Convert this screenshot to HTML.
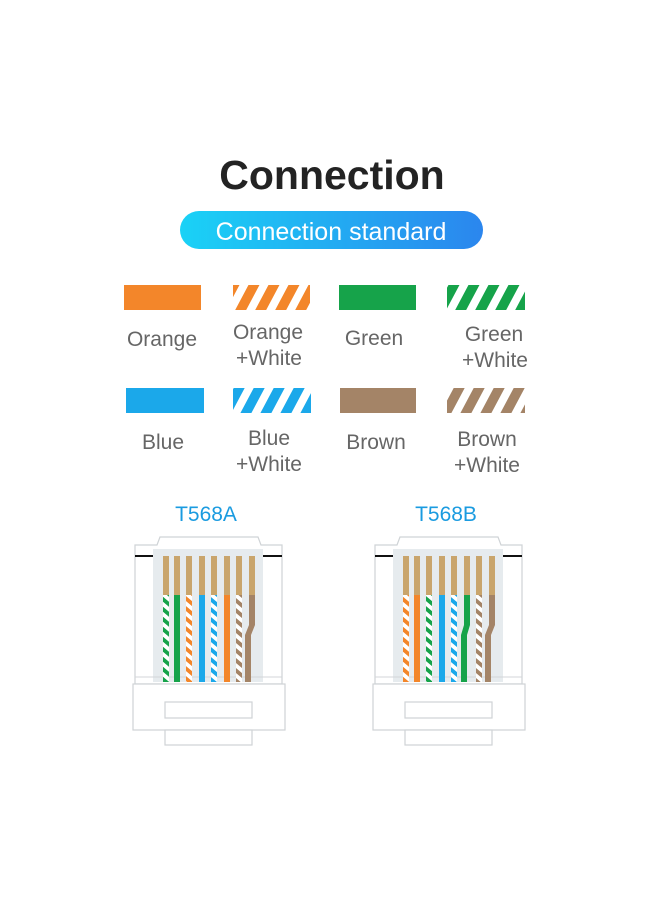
<!DOCTYPE html>
<html><head><meta charset="utf-8"><style>
html,body{margin:0;padding:0;background:#fff;}
svg{display:block;}
text{font-family:"Liberation Sans",sans-serif;}
</style></head><body>
<svg width="660" height="900" viewBox="0 0 660 900" xmlns="http://www.w3.org/2000/svg">
<defs>
<linearGradient id="pill" x1="0" x2="1" y1="0" y2="0">
<stop offset="0" stop-color="#1ad2f6"/><stop offset="1" stop-color="#2b86ee"/></linearGradient>
<pattern id="sO" width="20" height="20" patternUnits="userSpaceOnUse" patternTransform="skewX(-28)"><rect width="20" height="20" fill="#fff"/><rect width="11" height="20" fill="#f3862a"/></pattern>
<pattern id="sG" width="20" height="20" patternUnits="userSpaceOnUse" patternTransform="skewX(-28)"><rect width="20" height="20" fill="#fff"/><rect width="11" height="20" fill="#16a34a"/></pattern>
<pattern id="sB" width="20" height="20" patternUnits="userSpaceOnUse" patternTransform="skewX(-28)"><rect width="20" height="20" fill="#fff"/><rect width="11" height="20" fill="#1ba8ea"/></pattern>
<pattern id="sN" width="20" height="20" patternUnits="userSpaceOnUse" patternTransform="skewX(-28)"><rect width="20" height="20" fill="#fff"/><rect width="11" height="20" fill="#a48467"/></pattern>
<pattern id="wO" width="6" height="10" patternUnits="userSpaceOnUse" patternTransform="skewY(40)"><rect width="6" height="10" fill="#fff"/><rect width="6" height="5" fill="#f3862a"/></pattern>
<pattern id="wG" width="6" height="10" patternUnits="userSpaceOnUse" patternTransform="skewY(40)"><rect width="6" height="10" fill="#fff"/><rect width="6" height="5" fill="#16a34a"/></pattern>
<pattern id="wB" width="6" height="10" patternUnits="userSpaceOnUse" patternTransform="skewY(40)"><rect width="6" height="10" fill="#fff"/><rect width="6" height="5" fill="#1ba8ea"/></pattern>
<pattern id="wN" width="6" height="10" patternUnits="userSpaceOnUse" patternTransform="skewY(40)"><rect width="6" height="10" fill="#fff"/><rect width="6" height="5" fill="#a48467"/></pattern>
<g id="body">
<path d="M135 545 L157 545 L160 537 L258 537 L261 545 L282 545 L282 684 L135 684 Z" fill="#fff" stroke="#cfd3d6" stroke-width="1.2"/>
<rect x="153" y="549" width="110" height="133" fill="#e6ebee"/>
<line x1="135" y1="556" x2="153" y2="556" stroke="#111" stroke-width="2"/>
<line x1="263" y1="556" x2="282" y2="556" stroke="#111" stroke-width="2"/>
<line x1="135" y1="677" x2="282" y2="677" stroke="#d3d6d8"/>
<rect x="133" y="684" width="152" height="46" fill="#fff" stroke="#cfd3d6" stroke-width="1.2"/>
<rect x="165" y="702" width="87" height="16" fill="#fff" stroke="#cfd3d6" stroke-width="1.2"/>
<rect x="165" y="730" width="87" height="15" fill="#fff" stroke="#cfd3d6" stroke-width="1.2"/>
<g fill="#c9a56c">
<rect x="163" y="556" width="6" height="39"/><rect x="174" y="556" width="6" height="39"/><rect x="186" y="556" width="6" height="39"/><rect x="199" y="556" width="6" height="39"/><rect x="211" y="556" width="6" height="39"/><rect x="224" y="556" width="6" height="39"/><rect x="236" y="556" width="6" height="39"/><rect x="249" y="556" width="6" height="39"/>
</g>
</g>
</defs>

<text x="332" y="189" text-anchor="middle" font-size="41" font-weight="bold" fill="#232323">Connection</text>
<rect x="180" y="211" width="303" height="38" rx="19" fill="url(#pill)"/>
<text x="331" y="240" text-anchor="middle" font-size="25" fill="#fff">Connection standard</text>

<g font-size="21" fill="#666" text-anchor="middle">
<rect x="124" y="285" width="77" height="25" fill="#f3862a"/>
<rect x="233" y="285" width="77" height="25" fill="url(#sO)"/>
<rect x="339" y="285" width="77" height="25" fill="#16a34a"/>
<rect x="447" y="285" width="78" height="25" fill="url(#sG)"/>
<text x="162" y="346">Orange</text>
<text x="268" y="339">Orange</text><text x="269" y="365">+White</text>
<text x="374" y="345">Green</text>
<text x="494" y="341">Green</text><text x="495" y="367">+White</text>
<rect x="126" y="388" width="78" height="25" fill="#1ba8ea"/>
<rect x="233" y="388" width="78" height="25" fill="url(#sB)"/>
<rect x="340" y="388" width="76" height="25" fill="#a48467"/>
<rect x="447" y="388" width="78" height="25" fill="url(#sN)"/>
<text x="163" y="449">Blue</text>
<text x="269" y="445">Blue</text><text x="269" y="471">+White</text>
<text x="376" y="449">Brown</text>
<text x="487" y="446">Brown</text><text x="487" y="472">+White</text>
</g>

<text x="206" y="521" text-anchor="middle" font-size="21" fill="#1a9be0">T568A</text>
<text x="446" y="521" text-anchor="middle" font-size="21" fill="#1a9be0">T568B</text>

<use href="#body"/>
<g>
<rect x="163" y="595" width="6" height="87" fill="url(#wG)"/>
<rect x="174" y="595" width="6" height="87" fill="#16a34a"/>
<rect x="186" y="595" width="6" height="87" fill="url(#wO)"/>
<rect x="199" y="595" width="6" height="87" fill="#1ba8ea"/>
<rect x="211" y="595" width="6" height="87" fill="url(#wB)"/>
<rect x="224" y="595" width="6" height="87" fill="#f3862a"/>
<rect x="236" y="595" width="6" height="87" fill="url(#wN)"/>
<path d="M249 595 h6 v30 l-4 10 v47 h-6 v-47 l4 -10 Z" fill="#a48467"/>
</g>

<g transform="translate(240,0)">
<use href="#body"/>
<rect x="163" y="595" width="6" height="87" fill="url(#wO)"/>
<rect x="174" y="595" width="6" height="87" fill="#f3862a"/>
<rect x="186" y="595" width="6" height="87" fill="url(#wG)"/>
<rect x="199" y="595" width="6" height="87" fill="#1ba8ea"/>
<rect x="211" y="595" width="6" height="87" fill="url(#wB)"/>
<path d="M224 595 h6 v30 l-3 10 v47 h-6 v-47 l3 -10 Z" fill="#16a34a"/>
<rect x="236" y="595" width="6" height="87" fill="url(#wN)"/>
<path d="M249 595 h6 v30 l-4 10 v47 h-6 v-47 l4 -10 Z" fill="#a48467"/>
</g>
</svg>
</body></html>
